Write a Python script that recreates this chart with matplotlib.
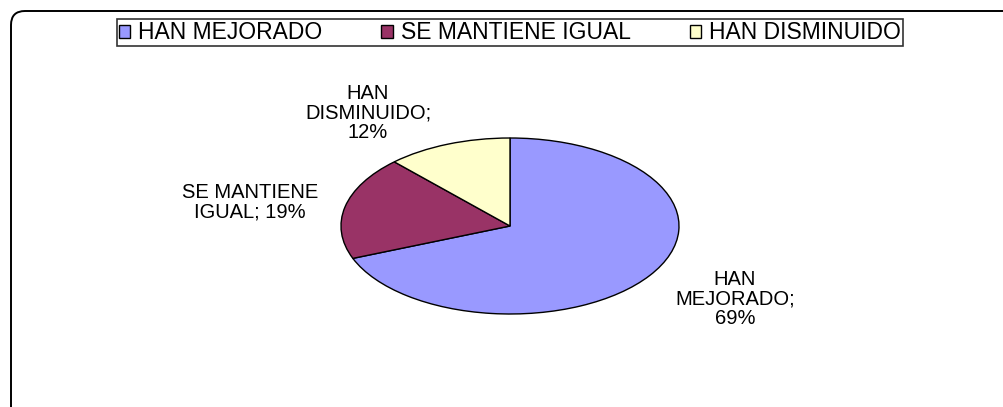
import matplotlib.pyplot as plt
from matplotlib.patches import FancyBboxPatch
from matplotlib.transforms import IdentityTransform

plt.rcParams['font.family'] = ['Liberation Sans', 'DejaVu Sans']

categorias = ['HAN MEJORADO', 'SE MANTIENE IGUAL', 'HAN DISMINUIDO']
porcentajes = [69, 19, 12]
etiquetas = ['HAN\nMEJORADO;\n69%', 'SE MANTIENE\nIGUAL; 19%', 'HAN\nDISMINUIDO;\n12%']
colores = ['#9999FF', '#993366', '#FFFFCC']

W, H = 1004, 407
cx, cy, rx, ry = 510, 226, 169, 88   # centro y radios del pastel en px

fig = plt.figure(figsize=(W / 100, H / 100), dpi=100)

# marco redondeado (solo se ven los bordes superior e izquierdo)
marco = FancyBboxPatch((11, -30), W + 30, H - 11 + 30,
                       boxstyle='round,pad=0,rounding_size=14',
                       transform=IdentityTransform(), fill=False,
                       edgecolor='black', linewidth=1.4)
fig.patches.append(marco)

ax = fig.add_axes([0, 0, 1, 1])
wedges, _ = ax.pie(porcentajes, colors=colores, startangle=90, counterclock=False,
                   wedgeprops=dict(edgecolor='black', linewidth=1))
ax.set_aspect('auto')
ax.set_xlim(-cx / rx, (W - cx) / rx)
ax.set_ylim(-(H - cy) / ry, cy / ry)
ax.axis('off')

pos_etiquetas = [(735, 299), (250, 202), (368, 113)]
for txt, (px, py) in zip(etiquetas, pos_etiquetas):
    ax.text((px - cx) / rx, (cy - py) / ry, txt, ha='center', va='center',
            fontsize=14.5, linespacing=1.02)

leg = fig.legend(wedges, categorias, loc='lower left', ncol=3, mode='expand',
                 bbox_to_anchor=(117 / W, 1 - 46 / H, 786 / W, 26 / H),
                 fontsize=16.5, frameon=True, fancybox=False, edgecolor='black',
                 handlelength=0.5, handleheight=0.5, handletextpad=0.35,
                 borderpad=0.08, borderaxespad=0, columnspacing=0.5)
leg.get_frame().set_linewidth(1.2)

fig.savefig('out.png', dpi=100, facecolor='white')
